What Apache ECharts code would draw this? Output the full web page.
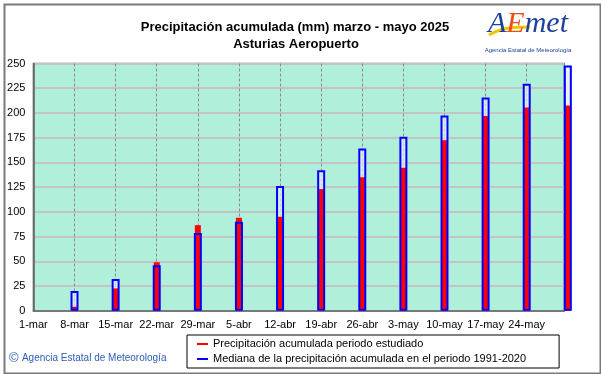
<!DOCTYPE html>
<html>
<head>
<meta charset="utf-8">
<script src="https://cdn.jsdelivr.net/npm/echarts@6/dist/echarts.min.js"></script>
<style>
html,body{margin:0;padding:0;background:#fff;}
#chart{width:601px;height:374px;}
</style>
</head>
<body>
<div id="chart"></div>
<script>
// ---- data ----
const tickLabels = ['1-mar','8-mar','15-mar','22-mar','29-mar','5-abr','12-abr','19-abr','26-abr','3-may','10-may','17-may','24-may'];
const tickDays = [0,7,14,21,28,35,42,49,56,63,70,77,84];
const barDays = [7,14,21,28,35,42,49,56,63,70,77,84,91];
const observed = [4,22.5,49,86.5,94,95,123,135,144.5,172.5,197,205.5,207.5];
const median = [20,32,46,78.6,90,126,142,164,176,197.5,215.5,229.5,248];
const yTicks = [0,25,50,75,100,125,150,175,200,225,250];

const FONT = "'Liberation Sans', Arial, sans-serif";
const nameObs = 'Precipitación acumulada periodo estudiado';
const nameMed = 'Mediana de la precipitación acumulada en el periodo 1991-2020';

const pairs = (vals) => barDays.map((d, i) => [d, vals[i]]);

const xBase = { type: 'value', min: 0, max: 90.4, interval: 7 };

const chart = echarts.init(document.getElementById('chart'), null, { renderer: 'canvas' });
chart.setOption({
  animation: false,
  backgroundColor: '#ffffff',
  grid: {
    left: 33.4, right: 36.7, top: 63.5, bottom: 63.3,
    show: true, backgroundColor: '#b0f0da', borderColor: '#707070', borderWidth: 1.5
  },
  xAxis: [
    Object.assign({}, xBase, {
      axisLine: { show: true, lineStyle: { color: '#606060', width: 1.5 } },
      axisTick: { show: false },
      axisLabel: {
        margin: 9, fontSize: 11, fontFamily: FONT, color: '#000',
        formatter: (v) => { const i = tickDays.indexOf(Math.round(v * 1000) / 1000); return i >= 0 ? tickLabels[i] : ''; }
      },
      splitLine: { show: true, lineStyle: { color: '#8c8c8c', type: [3, 2], width: 1 } }
    }),
    Object.assign({}, xBase, { show: false }),
    Object.assign({}, xBase, { show: false })
  ],
  yAxis: {
    type: 'value', min: 0, max: 250, interval: 25,
    axisLine: { show: true, lineStyle: { color: '#606060', width: 1.5 } },
    axisTick: { show: false },
    axisLabel: {
      margin: 8, fontSize: 11, fontFamily: FONT, color: '#000',
      formatter: (v) => yTicks.indexOf(v) >= 0 ? String(v) : ''
    },
    splitLine: { show: true, lineStyle: { color: '#c4c4c4', width: 2 } }
  },
  legend: {
    orient: 'vertical', left: 187, top: 335,
    data: [
      { name: nameObs, itemStyle: { color: '#ff0000', borderWidth: 0 } },
      { name: nameMed, itemStyle: { color: '#0000ff', borderWidth: 0 } }
    ],
    icon: 'rect', itemWidth: 11, itemHeight: 2, itemGap: 3,
    textStyle: { fontSize: 11, fontFamily: FONT, color: '#000', lineHeight: 12 },
    backgroundColor: '#ffffff', borderColor: '#000000', borderWidth: 1,
    padding: [3, 33, 3, 10], selectedMode: false
  },
  series: [
    {
      name: 'median-fill', type: 'bar', xAxisIndex: 1, barWidth: 8, clip: false, silent: true,
      data: pairs(median),
      itemStyle: { color: 'rgba(232,234,240,0.7)' }
    },
    {
      name: nameObs, type: 'bar', xAxisIndex: 0, barWidth: 6, clip: false,
      data: pairs(observed),
      itemStyle: { color: '#ff0000' }
    },
    {
      name: nameMed, type: 'bar', xAxisIndex: 2, barWidth: 8, clip: false,
      data: pairs(median),
      itemStyle: { color: 'rgba(0,0,0,0)', borderColor: '#0000ff', borderWidth: 2 }
    }
  ],
  graphic: [
    { type: 'rect', left: 2, top: 2, shape: { width: 596, height: 369 }, style: { fill: 'none', stroke: '#7a7a7a', lineWidth: 2 }, silent: true },
    { type: 'text', x: 295, y: 27, style: { text: 'Precipitación acumulada (mm) marzo - mayo 2025', font: "bold 13px " + FONT, fill: '#000', textAlign: 'center', textVerticalAlign: 'middle' } },
    { type: 'text', x: 296, y: 44, style: { text: 'Asturias Aeropuerto', font: "bold 13px " + FONT, fill: '#000', textAlign: 'center', textVerticalAlign: 'middle' } },
    // AEMET logo
    { type: 'bezierCurve', shape: { x1: 489, y1: 35, x2: 530, y2: 27, cpx1: 502, cpy1: 27, cpx2: 518, cpy2: 27 }, style: { stroke: '#f5c400', lineWidth: 3, fill: 'none' } },
    { type: 'text', x: 528, y: 24, style: {
        text: '{a|A}{e|E}{m|met}',
        textAlign: 'center', textVerticalAlign: 'middle',
        rich: {
          a: { font: "italic 30px 'Liberation Serif', serif", fill: '#1d3f9e' },
          e: { font: "italic 30px 'Liberation Serif', serif", fill: '#e8501a' },
          m: { font: "italic 30px 'Liberation Serif', serif", fill: '#1d3f9e' }
        }
    } },
    { type: 'text', x: 528, y: 50, style: { text: 'Agencia Estatal de Meteorología', font: "6px " + FONT, fill: '#1d3f9e', textAlign: 'center', textVerticalAlign: 'middle' } },
    // copyright
    { type: 'text', x: 9, y: 358, style: {
        text: '{c|©} {t|Agencia Estatal de Meteorología}',
        textVerticalAlign: 'middle',
        rich: {
          c: { font: "13px " + FONT, fill: '#2e5cb8' },
          t: { font: "10px " + FONT, fill: '#2e5cb8' }
        }
    } }
  ]
});
</script>
</body>
</html>
